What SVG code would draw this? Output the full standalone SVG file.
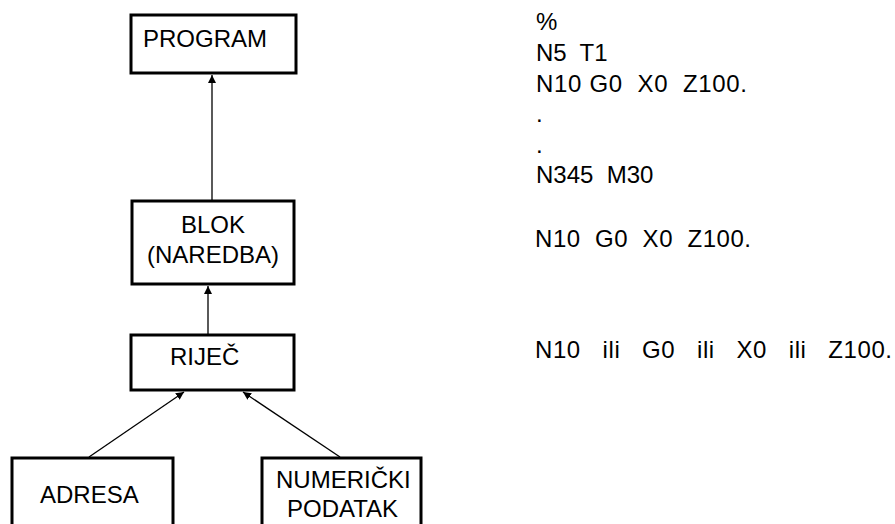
<svg xmlns="http://www.w3.org/2000/svg" width="895" height="524" viewBox="0 0 895 524">
<defs>
<style>
.box{fill:#fff;stroke:#000;stroke-width:3}
.t{font-family:"Liberation Sans",Arial,sans-serif;font-size:24px;fill:#000;white-space:pre}
.c{stroke:#000;stroke-width:1.3;fill:none;marker-end:url(#ah)}
</style>
<marker id="ah" viewBox="0 0 10 10" refX="10" refY="5" markerWidth="8" markerHeight="8" markerUnits="userSpaceOnUse" orient="auto">
<path d="M0,0 L10,5 L0,10 z" fill="#000"/>
</marker>
</defs>
<rect width="895" height="524" fill="#fff"/>
<g id="connectors">
<line class="c" x1="212" y1="200" x2="212" y2="75"/>
<line class="c" x1="208" y1="334" x2="208" y2="286"/>
<line class="c" x1="89" y1="457" x2="184" y2="392"/>
<line class="c" x1="340" y1="457" x2="243" y2="392"/>
</g>
<g id="program">
<rect class="box" x="131" y="15" width="165" height="58"/>
<text class="t" x="143" y="47">PROGRAM</text>
</g>
<g id="blok">
<rect class="box" x="132" y="201" width="162" height="83"/>
<text class="t" x="213" y="233" text-anchor="middle">BLOK</text>
<text class="t" x="213" y="263" text-anchor="middle">(NAREDBA)</text>
</g>
<g id="rijec">
<rect class="box" x="131" y="335" width="163" height="55"/>
<text class="t" x="170" y="365">RIJEČ</text>
</g>
<g id="adresa">
<rect class="box" x="12" y="458" width="161" height="80"/>
<text class="t" x="40" y="503">ADRESA</text>
</g>
<g id="numericki">
<rect class="box" x="262" y="458" width="159" height="80"/>
<text class="t" x="276" y="488">NUMERIČKI</text>
<text class="t" x="287" y="517">PODATAK</text>
</g>
<g id="code">
<text class="t" x="536" y="30">%</text>
<text class="t" x="536" y="61">N5  T1</text>
<text class="t" x="536" y="92" textLength="211" lengthAdjust="spacing">N10 G0  X0  Z100.</text>
<text class="t" x="536" y="122">.</text>
<text class="t" x="536" y="153">.</text>
<text class="t" x="536" y="183">N345  M30</text>
<text class="t" x="535" y="247" textLength="216" lengthAdjust="spacing">N10  G0  X0  Z100.</text>
<text class="t" x="535" y="358" textLength="357" lengthAdjust="spacing">N10   ili   G0   ili   X0   ili   Z100.</text>
</g>
</svg>
